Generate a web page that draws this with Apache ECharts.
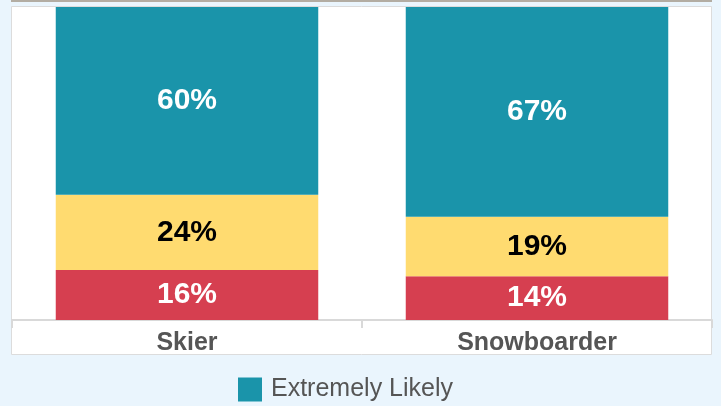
<!DOCTYPE html>
<html>
<head>
<meta charset="utf-8">
<script src="https://cdn.jsdelivr.net/npm/echarts@6/dist/echarts.min.js"></script>
<style>
  html, body { margin: 0; padding: 0; background: #eaf5fd; }
  #chart { width: 721px; height: 406px; }
</style>
</head>
<body>
<div id="chart"></div>
<script>
// Survey answers by rider type, stacked to 100%
const categories = ['Skier', 'Snowboarder'];
const notLikely = [16, 14];
const somewhatLikely = [24, 19];
const extremelyLikely = [60, 67];

const chart = echarts.init(document.getElementById('chart'));

const labelBase = {
  show: true,
  position: 'inside',
  formatter: '{c}%',
  fontFamily: 'Liberation Sans, Arial, sans-serif',
  fontSize: 30,
  fontWeight: 'bold'
};

chart.setOption({
  backgroundColor: '#eaf5fd',
  animation: false,
  graphic: [
    {
      type: 'rect',
      z: -10,
      shape: { x: 11, y: 0, width: 701, height: 2 },
      style: { fill: '#b3ada3' }
    },
    {
      type: 'rect',
      z: -10,
      shape: { x: 11.5, y: 6.5, width: 700, height: 348 },
      style: { fill: '#ffffff', stroke: '#dcdcdc', lineWidth: 1 }
    }
  ],
  grid: { left: 12, right: 9, top: 7, bottom: 86 },
  legend: {
    data: ['Extremely Likely'],
    left: 233,
    top: 372,
    itemWidth: 24,
    itemHeight: 24,
    itemGap: 10,
    icon: 'rect',
    textStyle: {
      fontFamily: 'Liberation Sans, Arial, sans-serif',
      fontSize: 25,
      color: '#555555',
      padding: [0, 0, 0, 4]
    }
  },
  xAxis: {
    type: 'category',
    data: categories,
    axisLine: { lineStyle: { color: '#d9d9d9', width: 2 } },
    axisTick: { show: true, length: 8, lineStyle: { color: '#d9d9d9', width: 2 } },
    axisLabel: {
      fontFamily: 'Liberation Sans, Arial, sans-serif',
      fontSize: 25,
      fontWeight: 'bold',
      color: '#555555',
      margin: 11
    }
  },
  yAxis: {
    type: 'value',
    min: 0,
    max: 100,
    show: false
  },
  series: [
    {
      name: 'Not Likely',
      type: 'bar',
      stack: 'total',
      barWidth: '75%',
      data: notLikely,
      itemStyle: { color: '#d63f50' },
      label: Object.assign({}, labelBase, { color: '#ffffff' })
    },
    {
      name: 'Somewhat Likely',
      type: 'bar',
      stack: 'total',
      barWidth: '75%',
      data: somewhatLikely,
      itemStyle: { color: '#ffdb70' },
      label: Object.assign({}, labelBase, { color: '#000000' })
    },
    {
      name: 'Extremely Likely',
      type: 'bar',
      stack: 'total',
      barWidth: '75%',
      data: extremelyLikely,
      itemStyle: { color: '#1a94aa' },
      label: Object.assign({}, labelBase, { color: '#ffffff' })
    }
  ]
});
</script>
</body>
</html>
